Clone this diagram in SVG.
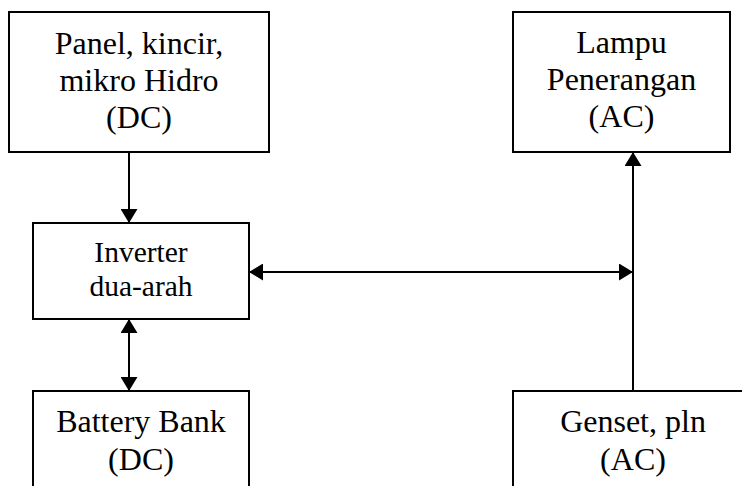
<svg xmlns="http://www.w3.org/2000/svg" width="742" height="486" viewBox="0 0 742 486">
<style>
.box{fill:#fff;stroke:#000;stroke-width:2}
.t{fill:#000;text-anchor:middle}
.big{font-size:32px}
.mid{font-size:29.5px}
.c{stroke:#000;stroke-width:2;fill:none}
</style>
<defs>
<marker id="ah" viewBox="0 0 14 17" refX="14" refY="8.5" markerWidth="14" markerHeight="17" markerUnits="userSpaceOnUse" orient="auto-start-reverse">
<path d="M0,0 L14,8.5 L0,17 z" fill="#000"/>
</marker>
</defs>
<rect width="742" height="486" fill="#fff"/>
<g id="connectors">
<line class="c" x1="129" y1="152" x2="129" y2="223" marker-end="url(#ah)"/>
<line class="c" x1="129" y1="319" x2="129" y2="391" marker-start="url(#ah)" marker-end="url(#ah)"/>
<line class="c" x1="249" y1="272" x2="633" y2="272" marker-start="url(#ah)" marker-end="url(#ah)"/>
<line class="c" x1="633" y1="391" x2="633" y2="152" marker-end="url(#ah)"/>
</g>
<g id="panel">
<rect class="box" x="9" y="12" width="260" height="140"/>
<text class="t big" font-family="Liberation Serif" x="139" y="54">Panel, kincir,</text>
<text class="t big" font-family="Liberation Serif" x="139" y="91">mikro Hidro</text>
<text class="t big" font-family="Liberation Serif" x="139" y="128">(DC)</text>
</g>
<g id="lampu">
<rect class="box" x="513" y="12" width="217" height="140"/>
<text class="t big" font-family="Liberation Serif" x="621.5" y="53">Lampu</text>
<text class="t big" font-family="Liberation Serif" x="621.5" y="90">Penerangan</text>
<text class="t big" font-family="Liberation Serif" x="621.5" y="127">(AC)</text>
</g>
<g id="inverter">
<rect class="box" x="33" y="223" width="216" height="96"/>
<text class="t mid" font-family="Liberation Serif" x="141" y="262">Inverter</text>
<text class="t mid" font-family="Liberation Serif" x="141" y="296">dua-arah</text>
</g>
<g id="battery">
<rect class="box" x="33" y="391" width="216" height="110"/>
<text class="t big" font-family="Liberation Serif" x="141" y="432">Battery Bank</text>
<text class="t big" font-family="Liberation Serif" x="141" y="470">(DC)</text>
</g>
<g id="genset">
<rect class="box" x="513" y="391" width="250" height="110"/>
<text class="t big" font-family="Liberation Serif" x="633" y="432">Genset, pln</text>
<text class="t big" font-family="Liberation Serif" x="633" y="470">(AC)</text>
</g>
</svg>
